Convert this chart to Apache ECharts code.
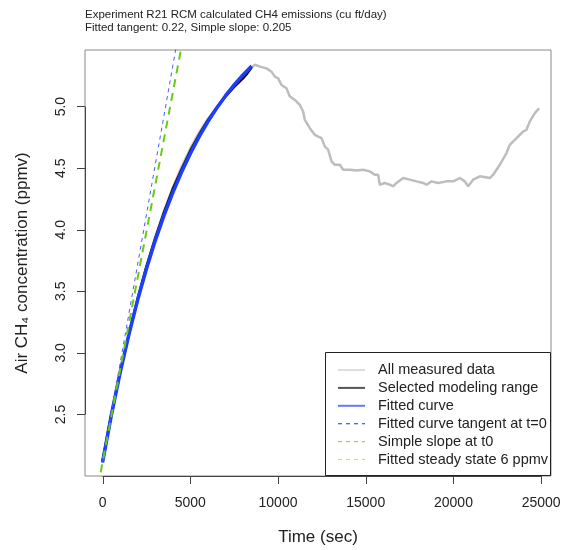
<!DOCTYPE html>
<html lang="en">
<head>
    <meta charset="UTF-8">
    <title>R21 RCM CH4</title>
    <script src="https://cdn.jsdelivr.net/npm/echarts@6/dist/echarts.min.js"></script>
    <style>
        body { margin: 0; background: #fff; }
    </style>
</head>
<body>
<div id="main" style="width: 562px;height:550px;"></div>
<script>
    // axis range
    var xMin = -1000, xMax = 25560;
    var yMin = 2.0, yMax = 5.46;
    var xTicks = [0, 5000, 10000, 15000, 20000, 25000];
    var yTicks = [2.5, 3.0, 3.5, 4.0, 4.5, 5.0];

    // all measured data (sec, ppmv)
    var allTime = [0, 500, 1000, 1500, 2000, 2500, 3000, 3500, 4000, 4500, 5000, 5500, 6000, 6500, 7000, 7500, 8000, 8250, 8500,
        8700, 8963, 9343, 9628, 9818, 10008, 10198, 10483, 10673, 10958, 11243, 11433, 11528, 11813, 12098, 12478, 12668, 12858,
        13048, 13238, 13523, 13713, 14093, 14473, 14853, 15233, 15518, 15708, 15803, 16088, 16373, 16563, 16753, 17133, 17513,
        17893, 18273, 18463, 18748, 19128, 19603, 19983, 20363, 20648, 20838, 21123, 21503, 22073, 22263, 22643, 23023, 23213,
        23593, 23973, 24163, 24353, 24638, 24885];
    var allConc = [2.12, 2.50, 2.84, 3.15, 3.44, 3.70, 3.94, 4.15, 4.34, 4.51, 4.66, 4.79, 4.90, 4.99, 5.08, 5.16, 5.23, 5.27, 5.32,
        5.34, 5.325, 5.311, 5.284, 5.244, 5.230, 5.176, 5.149, 5.082, 5.055, 5.014, 4.960, 4.893, 4.825, 4.771, 4.744, 4.677, 4.650,
        4.555, 4.528, 4.528, 4.487, 4.487, 4.482, 4.487, 4.474, 4.447, 4.447, 4.366, 4.380, 4.366, 4.353, 4.380, 4.420, 4.407,
        4.393, 4.380, 4.366, 4.393, 4.380, 4.393, 4.393, 4.420, 4.393, 4.353, 4.407, 4.434, 4.420, 4.447, 4.528, 4.623, 4.690,
        4.744, 4.798, 4.812, 4.880, 4.947, 4.987];

    // selected modeling range
    var selTime = [0, 500, 1000, 1500, 2000, 2500, 3000, 3500, 4000, 4500, 5000, 5500, 6000, 6500, 7000, 7500, 8000, 8250, 8500];
    var selConc = [2.12, 2.50, 2.84, 3.15, 3.44, 3.70, 3.93, 4.14, 4.33, 4.49, 4.64, 4.77, 4.89, 4.99, 5.08, 5.16, 5.23, 5.27, 5.32];

    // fitted curve
    var fitTime = [0, 500, 1000, 1500, 2000, 2500, 3000, 3500, 4000, 4500, 5000, 5500, 6000, 6500, 7000, 7500, 8000, 8500];
    var fitConc = [2.11, 2.492, 2.837, 3.148, 3.429, 3.682, 3.910, 4.115, 4.300, 4.467, 4.618, 4.754, 4.877, 4.987, 5.087, 5.176, 5.257, 5.330];

    // tangent at t=0 and simple slope
    var tanTime = [0, 4500];
    var tanConc = [2.11, 5.73];
    var slopeTime = [-1000, 5000];
    var slopeConc = [1.36, 5.86];
    var steadyState = 6;

    function pairs(t, c) {
        var out = [];
        for (var i = 0; i < t.length; i++) out.push([t[i], c[i]]);
        return out;
    }

    var font = 'Liberation Sans, Arial, Helvetica, sans-serif';
    var myChart = echarts.init(document.getElementById('main'));

    var legendItems = [
        {name: 'All measured data', color: '#dedede', width: 2, dash: null},
        {name: 'Selected modeling range', color: '#555555', width: 2, dash: null},
        {name: 'Fitted curve', color: '#6677ff', width: 2, dash: null},
        {name: 'Fitted curve tangent at t=0', color: '#3355ff', width: 1.2, dash: [4, 4]},
        {name: 'Simple slope at t0', color: '#88dd55', width: 1.2, dash: [4, 4]},
        {name: 'Fitted steady state 6 ppmv', color: '#ffbf80', width: 1.2, dash: [4, 4]}
    ];
    var graphics = [{
        type: 'rect', shape: {x: 325.5, y: 352.5, width: 225, height: 123},
        style: {fill: '#fff', stroke: '#222', lineWidth: 1}, z: 100
    }];
    for (var i = 0; i < legendItems.length; i++) {
        var it = legendItems[i];
        var yy = 370 + i * 17.9;
        graphics.push({
            type: 'line', shape: {x1: 338, y1: yy, x2: 365, y2: yy},
            style: {stroke: it.color, lineWidth: it.width, lineDash: it.dash}, z: 101
        });
        graphics.push({
            type: 'text', x: 378, y: yy,
            style: {text: it.name, fill: '#222', font: '14.5px ' + font, textVerticalAlign: 'middle'}, z: 101
        });
    }

    // x axis ticks (drawn through the axis scale)
    function renderTick(params, api) {
        var p = api.coord([api.value(0), yMin]);
        var x = Math.round(p[0]) + 0.5;
        return {
            type: 'line',
            shape: {x1: x, y1: p[1], x2: x, y2: p[1] + 8},
            style: {stroke: '#444', lineWidth: 1}
        };
    }

    myChart.setOption({
        animation: false,
        title: {
            text: 'Experiment R21 RCM calculated CH4 emissions (cu ft/day)\nFitted tangent: 0.22, Simple slope: 0.205',
            left: 85, top: 8, padding: 0,
            textStyle: {fontSize: 11.5, fontWeight: 'normal', color: '#222', fontFamily: font, lineHeight: 13.5}
        },
        grid: {left: 85, right: 11, top: 50, bottom: 74, show: true, borderColor: '#8a8a8a', borderWidth: 1,
            outerBoundsMode: 'none', containLabel: false},
        xAxis: {
            type: 'value', min: xMin, max: xMax,
            name: 'Time (sec)', nameLocation: 'middle', nameGap: 53,
            nameTextStyle: {fontSize: 17, color: '#222', fontFamily: font},
            axisLine: {show: true, onZero: false, lineStyle: {color: 'rgba(0,0,0,0)'}},
            axisTick: {show: false},
            axisLabel: {customValues: xTicks, margin: 20, fontSize: 14, color: '#222', fontFamily: font,
                formatter: function (v) { return String(v); }},
            splitLine: {show: false}
        },
        yAxis: {
            type: 'value', min: yMin, max: yMax,
            name: 'Air CH\u2084 concentration (ppmv)', nameLocation: 'middle', nameGap: 54, nameRotate: 90,
            nameTextStyle: {fontSize: 17, color: '#222', fontFamily: font},
            axisLine: {show: true, onZero: false, lineStyle: {color: 'rgba(0,0,0,0)'}},
            axisTick: {show: true, inside: false, length: 8, customValues: yTicks, lineStyle: {color: '#444', width: 1}},
            axisLabel: {customValues: yTicks, margin: 17, rotate: 90, fontSize: 14, color: '#222', fontFamily: font,
                formatter: function (v) { return v.toFixed(1); }},
            splitLine: {show: false}
        },
        graphic: graphics,
        series: [
            {
                name: 'All measured data', type: 'line', data: pairs(allTime, allConc),
                showSymbol: false, lineStyle: {color: '#bdbdbd', width: 2.5}, z: 2,
                markLine: {
                    silent: true, symbol: 'none', label: {show: false},
                    lineStyle: {color: '#444', width: 1, type: 'solid'},
                    data: [
                        [{coord: [xTicks[0], yMin]}, {coord: [xTicks[xTicks.length - 1], yMin]}],
                        [{coord: [xMin, yTicks[0]]}, {coord: [xMin, yTicks[yTicks.length - 1]]}]
                    ]
                }
            },
            {
                name: 'Selected modeling range', type: 'line', data: pairs(selTime, selConc),
                showSymbol: false, lineStyle: {color: '#111', width: 2.5}, z: 3
            },
            {
                name: 'Fitted curve', type: 'line', data: pairs(fitTime, fitConc),
                showSymbol: false, lineStyle: {color: '#1f3dff', width: 3.5}, z: 4
            },
            {
                name: 'Fitted curve tangent at t=0', type: 'line', data: pairs(tanTime, tanConc),
                showSymbol: false, clip: true, lineStyle: {color: '#4a5cff', width: 1, type: [4, 4]}, z: 5
            },
            {
                name: 'Simple slope at t0', type: 'line', data: pairs(slopeTime, slopeConc),
                showSymbol: false, clip: true, lineStyle: {color: '#66cc11', width: 2, type: [8, 6]}, z: 6
            },
            {
                name: 'Fitted steady state 6 ppmv', type: 'line', data: [[xMin, steadyState], [xMax, steadyState]],
                showSymbol: false, clip: true, lineStyle: {color: '#ffa64d', width: 1, type: [4, 4]}, z: 6
            },
            {
                name: 'xticks', type: 'custom', clip: false, silent: true, z: 10,
                data: xTicks.map(function (v) { return [v, yMin]; }),
                renderItem: renderTick
            }
        ]
    });
</script>
</body>
</html>
